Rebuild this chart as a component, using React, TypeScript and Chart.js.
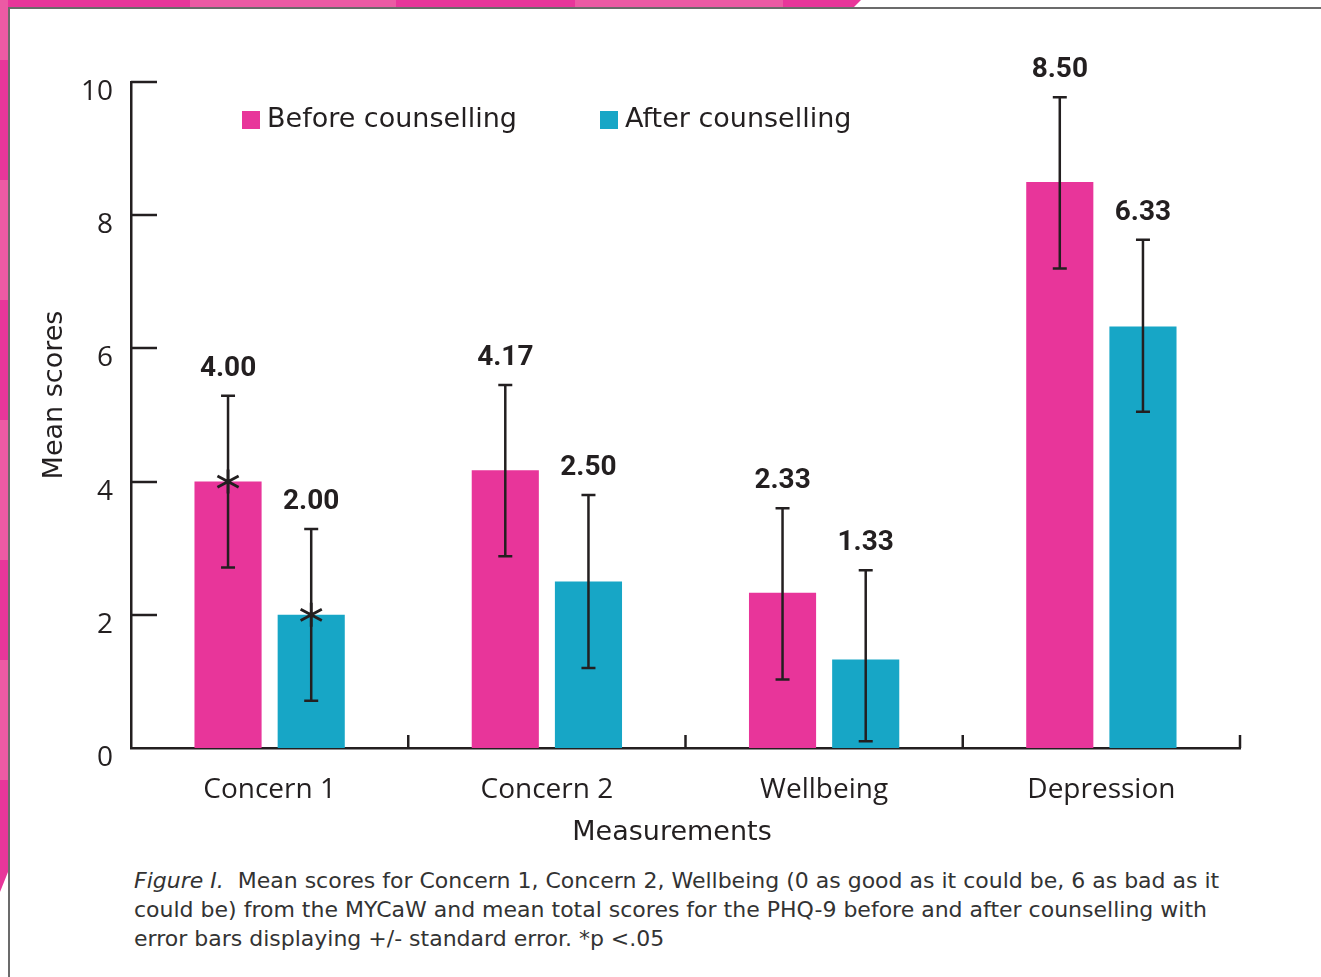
import React, { useEffect, useRef } from "react";
import { Chart, registerables } from "chart.js";

Chart.register(...registerables);

const categories = ["Concern 1", "Concern 2", "Wellbeing", "Depression"];
const seriesNames = ["Before counselling", "After counselling"];
const beforeValues = [4.0, 4.17, 2.33, 8.5];
const afterValues = [2.0, 2.5, 1.33, 6.33];
const beforeLower = [2.71, 2.88, 1.03, 7.2];
const beforeUpper = [5.29, 5.45, 3.6, 9.77];
const afterLower = [0.71, 1.2, 0.1, 5.05];
const afterUpper = [3.29, 3.8, 2.67, 7.63];
const significant = [true, false, false, false];
const yTickValues = [0, 2, 4, 6, 8, 10];
const yTitle = "Mean scores";
const xTitle = "Measurements";
const captionItalic = "Figure I.";
const captionLines = [
  "  Mean scores for Concern 1, Concern 2, Wellbeing (0 as good as it could be, 6 as bad as it",
  "could be) from the MYCaW and mean total scores for the PHQ-9 before and after counselling with",
  "error bars displaying +/- standard error. *p <.05",
];

const PINK = "#E8359A";
const CYAN = "#17A6C6";
const INK = "#231F20";
const GOTHIC = '"DejaVu Sans", sans-serif';
const HUMANIST = '"Open Sans", sans-serif';

const W = 1321;
const CH = 860;

const lowers = [beforeLower, afterLower];
const uppers = [beforeUpper, afterUpper];

const overlayPlugin = {
  id: "overlay",
  afterDatasetsDraw(chart: any) {
    const { ctx, chartArea, scales } = chart;
    const y = scales.y;
    ctx.save();
    // inward y ticks
    ctx.strokeStyle = INK;
    ctx.lineWidth = 2.5;
    yTickValues.forEach((v) => {
      const py = Math.round(y.getPixelForValue(v));
      if (v === 0) return;
      ctx.beginPath();
      ctx.moveTo(chartArea.left, py);
      ctx.lineTo(chartArea.left + 26, py);
      ctx.stroke();
    });
    // inward x ticks at category boundaries
    const n = categories.length;
    const cw = (chartArea.right - chartArea.left) / n;
    for (let i = 1; i <= n; i++) {
      const px = chartArea.left + i * cw;
      ctx.beginPath();
      ctx.moveTo(px, chartArea.bottom);
      ctx.lineTo(px, chartArea.bottom - 13);
      ctx.stroke();
    }
    // error bars, value labels, significance
    [0, 1].forEach((di) => {
      const meta = chart.getDatasetMeta(di);
      meta.data.forEach((bar: any, j: number) => {
        const bx = bar.x;
        const yl = y.getPixelForValue(lowers[di][j]);
        const yu = y.getPixelForValue(uppers[di][j]);
        ctx.strokeStyle = INK;
        ctx.lineWidth = 2.5;
        ctx.beginPath();
        ctx.moveTo(bx, yl);
        ctx.lineTo(bx, yu);
        ctx.moveTo(bx - 7, yl);
        ctx.lineTo(bx + 7, yl);
        ctx.moveTo(bx - 7, yu);
        ctx.lineTo(bx + 7, yu);
        ctx.stroke();
        const val = chart.data.datasets[di].data[j];
        ctx.fillStyle = INK;
        ctx.font = 'bold 28px Roboto, sans-serif';
        ctx.textAlign = "center";
        ctx.textBaseline = "middle";
        ctx.fillText(Number(val).toFixed(2), bx, yu - 27);
        if (significant[j]) {
          const cy = y.getPixelForValue(val);
          ctx.lineWidth = 2.8;
          ctx.beginPath();
          const r = 12;
          [90, 28, 152].forEach((deg) => {
            const a = (deg * Math.PI) / 180;
            ctx.moveTo(bx - r * Math.cos(a), cy - r * Math.sin(a));
            ctx.lineTo(bx + r * Math.cos(a), cy + r * Math.sin(a));
          });
          ctx.stroke();
        }
      });
    });
    // legend
    const lx = [chartArea.left + 111, chartArea.left + 469];
    const ly = chartArea.top + 29;
    chart.data.datasets.forEach((ds: any, i: number) => {
      ctx.fillStyle = ds.backgroundColor;
      ctx.fillRect(lx[i], ly, 18, 18);
      ctx.fillStyle = INK;
      ctx.font = `27px ${GOTHIC}`;
      ctx.textAlign = "left";
      ctx.textBaseline = "middle";
      ctx.fillText(ds.label, lx[i] + 25, ly + 9);
    });
    // axis titles
    ctx.fillStyle = INK;
    ctx.font = `27px ${GOTHIC}`;
    ctx.textAlign = "center";
    ctx.textBaseline = "middle";
    ctx.fillText(xTitle, chartArea.left + 541, chartArea.bottom + 85);
    ctx.save();
    ctx.translate(55, chartArea.top + 313);
    ctx.rotate(-Math.PI / 2);
    ctx.fillText(yTitle, 0, 0);
    ctx.restore();
    ctx.restore();
  },
};

function ChartCanvas() {
  const ref = useRef<HTMLCanvasElement | null>(null);
  useEffect(() => {
    if (!ref.current) return;
    const chart = new Chart(ref.current, {
      type: "bar",
      data: {
        labels: categories,
        datasets: [
          {
            label: seriesNames[0],
            data: beforeValues,
            backgroundColor: PINK,
            categoryPercentage: 0.6,
            barPercentage: 0.807,
          },
          {
            label: seriesNames[1],
            data: afterValues,
            backgroundColor: CYAN,
            categoryPercentage: 0.6,
            barPercentage: 0.807,
          },
        ],
      },
      options: {
        responsive: false,
        animation: false,
        devicePixelRatio: 1,
        layout: { padding: { top: 82, right: 81, left: 0, bottom: 0 } },
        plugins: {
          legend: { display: false },
          tooltip: { enabled: false },
        },
        scales: {
          x: {
            grid: { display: false, drawTicks: false },
            border: { display: true, color: INK, width: 2.5 },
            ticks: {
              color: INK,
              font: { family: HUMANIST, size: 28 },
              padding: 25,
            },
            afterFit(scale: any) {
              scale.height = CH - 748;
            },
          },
          y: {
            min: 0,
            max: 10,
            afterBuildTicks(scale: any) {
              scale.ticks = yTickValues.map((v) => ({ value: v }));
            },
            grid: { display: false, drawTicks: false },
            border: { display: true, color: INK, width: 2.5 },
            ticks: {
              color: INK,
              font: { family: HUMANIST, size: 28 },
              padding: 18,
              labelOffset: 10,
            },
            afterFit(scale: any) {
              scale.width = 131;
            },
          },
        },
      },
      plugins: [overlayPlugin],
    });
    return () => chart.destroy();
  }, []);
  return (
    <canvas
      ref={ref}
      width={W}
      height={CH}
      style={{ position: "absolute", left: 0, top: 0, width: W, height: CH }}
    />
  );
}

export default function App() {
  return (
    <div
      style={{
        position: "fixed",
        left: 0,
        top: 0,
        width: W,
        height: 977,
        background: "#fff",
        overflow: "hidden",
      }}
    >
      <ChartCanvas />
      {/* decorative frame */}
      <div
        style={{
          position: "absolute",
          left: 0,
          top: 0,
          width: 861,
          height: 7,
          background:
            "linear-gradient(to right, #E8369A 0px, #E8369A 190px, #EC5AA4 190px, #EC5AA4 396px, #E8369A 396px, #E8369A 575px, #EC5AA4 575px, #EC5AA4 783px, #E8369A 783px)",
          clipPath: "polygon(0 0, 861px 0, 854px 7px, 0 7px)",
        }}
      />
      <div
        style={{
          position: "absolute",
          left: 0,
          top: 0,
          width: 8,
          height: 892,
          background:
            "linear-gradient(to bottom, #EC5AA4 0px, #EC5AA4 60px, #E8369A 60px, #E8369A 180px, #EC5AA4 180px, #EC5AA4 300px, #E8369A 300px, #E8369A 420px, #EC5AA4 420px, #EC5AA4 560px, #E8369A 560px, #E8369A 660px, #EC5AA4 660px, #EC5AA4 780px, #E8369A 780px)",
          clipPath: "polygon(0 0, 8px 0, 8px 872px, 0 892px)",
        }}
      />
      <div style={{ position: "absolute", left: 8, top: 7, width: W - 8, height: 2, background: "#6b6b6b" }} />
      <div style={{ position: "absolute", left: 8, top: 7, width: 2, height: 977, background: "#6b6b6b" }} />
      {/* caption */}
      <div
        style={{
          position: "absolute",
          left: 134,
          top: 866,
          fontFamily: GOTHIC,
          fontSize: 22,
          lineHeight: "29px",
          color: "#333",
          whiteSpace: "pre",
        }}
      >
        <span style={{ fontStyle: "italic" }}>{captionItalic}</span>
        {captionLines[0]}
        <br />
        {captionLines[1]}
        <br />
        {captionLines[2]}
      </div>
    </div>
  );
}
